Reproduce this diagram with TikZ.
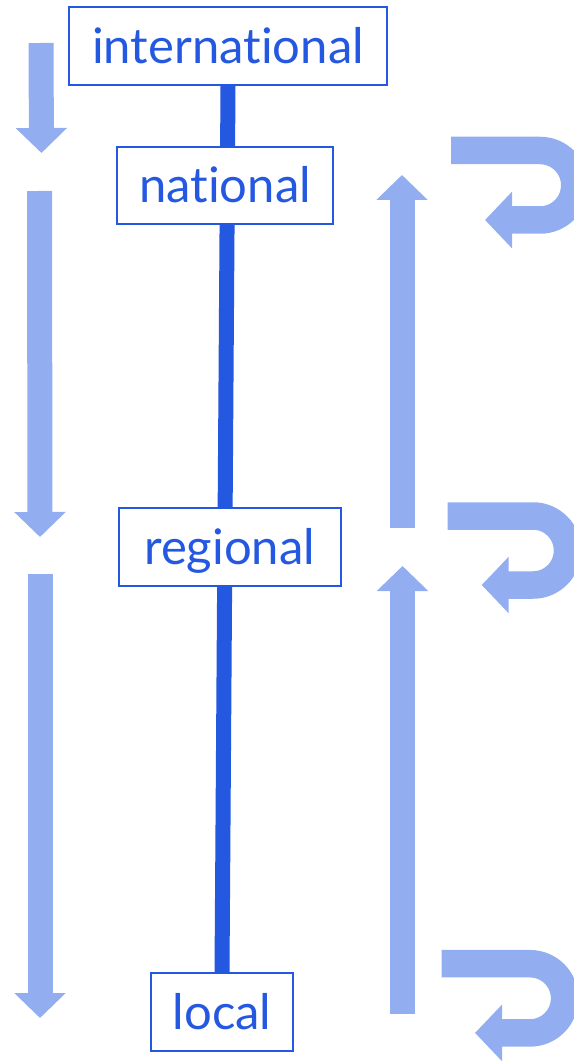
\documentclass[tikz,border=0pt]{standalone}
\usepackage{fontspec}
\setmainfont{Lato}[Ligatures={NoCommon,NoRare},RawFeature={-liga,-dlig,-calt}]
\usetikzlibrary{arrows.meta,backgrounds}
\definecolor{lvblue}{HTML}{2458E0}
\definecolor{flowblue}{HTML}{92ADF0}

\begin{document}
\begin{tikzpicture}
[x=1pt,y=-1pt
,lv/.style={draw=lvblue,line width=1.6pt,fill=white,text=lvblue,font=\fontsize{49}{49}\selectfont,minimum height=78pt,inner xsep=20pt,text height=35pt,text depth=0pt}
,link/.style={draw=lvblue,line width=15pt}
,flow/.style={draw=flowblue,line width=25pt,arrows={-Triangle[length=25pt,width=50pt]}}
,turn/.style={draw=flowblue,line width=27.5pt,arrows={-Triangle[length=27pt,width=55pt]}}
]
\useasboundingbox (0,0) rectangle (573,1064);
% levels
\node[lv,minimum width=318pt] (int) at (228,46) {international};
\node[lv,minimum width=216pt,minimum height=77pt] (nat) at (225,185.5) {national};
\node[lv,minimum width=222pt] (reg) at (229.7,547) {regional};
\node[lv,minimum width=142pt] (loc) at (222,1012) {local};
\begin{scope}[on background layer]
\draw[link] (int.south) -- (loc.north);
\end{scope}
% top-down flows
\coordinate (d1) at (41,43);   \coordinate (d1e) at (41.5,153);
\coordinate (d2) at (39.5,191); \coordinate (d2e) at (40,537);
\coordinate (d3) at (40,574);  \coordinate (d3e) at (40,1018);
\draw[flow] (d1) -- (d1e);
\draw[flow] (d2) -- (d2e);
\draw[flow] (d3) -- (d3e);
% bottom-up flows
\coordinate (u1) at (402,528);    \coordinate (u1e) at (402,175);
\coordinate (u2) at (402.5,1014); \coordinate (u2e) at (402.5,566);
\draw[flow] (u1) -- (u1e);
\draw[flow] (u2) -- (u2e);
% feedback turns
\coordinate (t1) at (451,150.5);   \coordinate (t1e) at (485,220);
\coordinate (t2) at (447.7,516);   \coordinate (t2e) at (481.7,585);
\coordinate (t3) at (441.7,963.7); \coordinate (t3e) at (475,1032.9);
\draw[turn] (t1) -- (540,150.5) arc (90:-90:34.75pt) -- (t1e);
\draw[turn] (t2) -- (533,516) arc (90:-90:34.5pt) -- (t2e);
\draw[turn] (t3) -- (530,963.7) arc (90:-90:34.6pt) -- (t3e);
\end{tikzpicture}
\end{document}
